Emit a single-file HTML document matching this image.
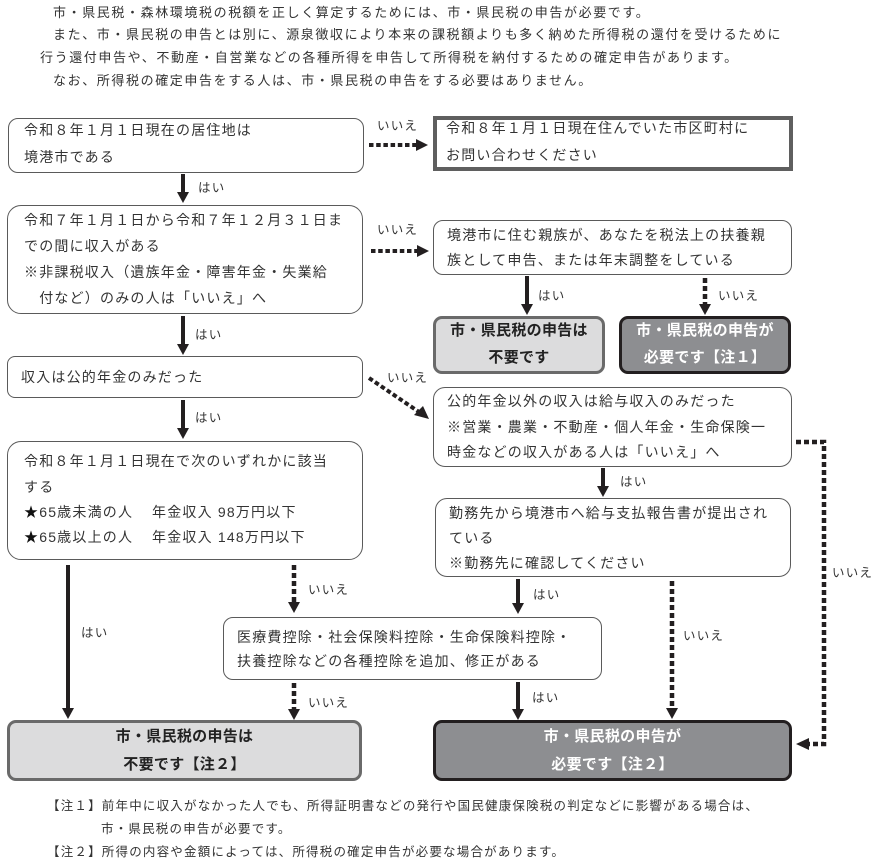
<!DOCTYPE html>
<html><head><meta charset="utf-8">
<style>
html,body{margin:0;padding:0;background:#fff;}
#c{position:relative;width:878px;height:858px;overflow:hidden;background:#fff;}
.t{position:absolute;white-space:nowrap;font-family:"Liberation Sans","Noto Sans CJK JP",sans-serif;color:#333;}
.tp{font-size:13px;letter-spacing:1.6px;line-height:22.7px;}
.bx{font-size:14px;letter-spacing:1.2px;}
.lb{font-size:12.5px;letter-spacing:1.2px;line-height:16px;color:#333;}
.nt{font-size:12.5px;letter-spacing:1.2px;line-height:23px;}
.bd{font-size:15px;letter-spacing:0.3px;font-weight:bold;text-align:center;}
.b{position:absolute;box-sizing:border-box;border:1.5px solid #5a5a5a;border-radius:11px;background:#fff;}
.lt{position:absolute;box-sizing:border-box;border:3px solid #6a6a6a;border-radius:9px;background:#dcdcdd;}
.dk{position:absolute;box-sizing:border-box;border:3px solid #231f20;border-radius:9px;background:#8d8e91;}
svg{position:absolute;left:0;top:0;}
</style></head><body><div id="c">

<!-- top paragraph -->
<div class="t tp" style="left:53px;top:1.7px;">市・県民税・森林環境税の税額を正しく算定するためには、市・県民税の申告が必要です。</div>
<div class="t tp" style="left:53px;top:24.4px;">また、市・県民税の申告とは別に、源泉徴収により本来の課税額よりも多く納めた所得税の還付を受けるために</div>
<div class="t tp" style="left:40px;top:47px;">行う還付申告や、不動産・自営業などの各種所得を申告して所得税を納付するための確定申告があります。</div>
<div class="t tp" style="left:53px;top:69.7px;">なお、所得税の確定申告をする人は、市・県民税の申告をする必要はありません。</div>

<!-- boxes -->
<div class="b" style="left:8px;top:118px;width:356px;height:55px;border-radius:10px;"></div>
<div style="position:absolute;left:433px;top:116px;width:360px;height:55px;box-sizing:border-box;border:4px solid #5f5f5f;background:#fff;"></div>
<div class="b" style="left:7px;top:205px;width:356px;height:109px;border-radius:14px;"></div>
<div class="b" style="left:433px;top:220px;width:359px;height:55px;border-radius:10px;"></div>
<div class="lt" style="left:433px;top:316px;width:172px;height:58px;"></div>
<div class="dk" style="left:619px;top:316px;width:172px;height:58px;"></div>
<div class="b" style="left:7px;top:356px;width:356px;height:42px;border-radius:8px;"></div>
<div class="b" style="left:433px;top:387px;width:359px;height:80px;border-radius:12px;"></div>
<div class="b" style="left:7px;top:441px;width:356px;height:119px;border-radius:14px;"></div>
<div class="b" style="left:435px;top:498px;width:356px;height:79px;border-radius:12px;"></div>
<div class="b" style="left:223px;top:617px;width:379px;height:63px;border-radius:10px;"></div>
<div class="lt" style="left:7px;top:720px;width:355px;height:61px;"></div>
<div class="dk" style="left:433px;top:720px;width:359px;height:61px;"></div>

<!-- box texts -->
<div class="t bx" style="left:24px;top:116.5px;line-height:27px;">令和８年１月１日現在の居住地は<br>境港市である</div>
<div class="t bx" style="left:446px;top:114.5px;line-height:27px;">令和８年１月１日現在住んでいた市区町村に<br>お問い合わせください</div>
<div class="t bx" style="left:24px;top:207px;line-height:26px;">令和７年１月１日から令和７年１２月３１日ま<br>での間に収入がある<br>※非課税収入（遺族年金・障害年金・失業給<br>&#12288;付など）のみの人は「いいえ」へ</div>
<div class="t bx" style="left:447px;top:222.5px;line-height:25px;">境港市に住む親族が、あなたを税法上の扶養親<br>族として申告、または年末調整をしている</div>
<div class="t bx bd" style="left:433px;top:316.5px;width:172px;line-height:27px;color:#222;">市・県民税の申告は<br>不要です</div>
<div class="t bx bd" style="left:619px;top:316.5px;width:172px;line-height:27px;color:#fff;">市・県民税の申告が<br>必要です【注１】</div>
<div class="t bx" style="left:21px;top:364px;line-height:26px;">収入は公的年金のみだった</div>
<div class="t bx" style="left:447px;top:389px;line-height:25.5px;">公的年金以外の収入は給与収入のみだった<br>※営業・農業・不動産・個人年金・生命保険一<br>時金などの収入がある人は「いいえ」へ</div>
<div class="t bx" style="left:24px;top:449.3px;line-height:25.3px;">令和８年１月１日現在で次のいずれかに該当<br>する<br><span style="color:#111">★</span>65歳未満の人<br><span style="color:#111">★</span>65歳以上の人</div>
<div class="t bx" style="left:152px;top:500px;line-height:25.3px;">年金収入 98万円以下<br>年金収入 148万円以下</div>
<div class="t bx" style="left:449px;top:500.5px;line-height:25px;">勤務先から境港市へ給与支払報告書が提出され<br>ている<br>※勤務先に確認してください</div>
<div class="t bx" style="left:237px;top:625px;line-height:24px;">医療費控除・社会保険料控除・生命保険料控除・<br>扶養控除などの各種控除を追加、修正がある</div>
<div class="t bx bd" style="left:7px;top:723px;width:355px;line-height:28px;color:#222;">市・県民税の申告は<br>不要です【注２】</div>
<div class="t bx bd" style="left:433px;top:723px;width:359px;line-height:28px;color:#fff;">市・県民税の申告が<br>必要です【注２】</div>

<!-- labels -->
<div class="t lb" style="left:377px;top:118px;">いいえ</div>
<div class="t lb" style="left:198px;top:180px;">はい</div>
<div class="t lb" style="left:377px;top:222px;">いいえ</div>
<div class="t lb" style="left:195px;top:327px;">はい</div>
<div class="t lb" style="left:195px;top:410px;">はい</div>
<div class="t lb" style="left:387px;top:370px;">いいえ</div>
<div class="t lb" style="left:538px;top:288px;">はい</div>
<div class="t lb" style="left:718px;top:288px;">いいえ</div>
<div class="t lb" style="left:620px;top:474px;">はい</div>
<div class="t lb" style="left:832px;top:565px;">いいえ</div>
<div class="t lb" style="left:533px;top:587px;">はい</div>
<div class="t lb" style="left:683px;top:628px;">いいえ</div>
<div class="t lb" style="left:81px;top:625px;">はい</div>
<div class="t lb" style="left:308px;top:582px;">いいえ</div>
<div class="t lb" style="left:308px;top:695px;">いいえ</div>
<div class="t lb" style="left:532px;top:690px;">はい</div>

<!-- notes -->
<div class="t nt" style="left:47px;top:794.5px;">【注１】前年中に収入がなかった人でも、所得証明書などの発行や国民健康保険税の判定などに影響がある場合は、</div>
<div class="t nt" style="left:101px;top:817.5px;">市・県民税の申告が必要です。</div>
<div class="t nt" style="left:47px;top:840.5px;">【注２】所得の内容や金額によっては、所得税の確定申告が必要な場合があります。</div>

<svg width="878" height="858" viewBox="0 0 878 858">
<g stroke="#231f20" stroke-width="4" fill="none">
  <!-- solid -->
  <line x1="183" y1="174" x2="183" y2="193"/>
  <line x1="183" y1="316" x2="183" y2="345"/>
  <line x1="183" y1="400" x2="183" y2="429"/>
  <line x1="68" y1="565" x2="68" y2="709"/>
  <line x1="527" y1="276" x2="527" y2="305"/>
  <line x1="603" y1="468" x2="603" y2="487"/>
  <line x1="518" y1="579" x2="518" y2="604"/>
  <line x1="518" y1="682" x2="518" y2="710"/>
</g>
<g fill="#231f20">
  <polygon points="177,192 189,192 183,203"/>
  <polygon points="177,344 189,344 183,355"/>
  <polygon points="177,428 189,428 183,439"/>
  <polygon points="62,708 74,708 68,719"/>
  <polygon points="521,304 533,304 527,315"/>
  <polygon points="597,486 609,486 603,497"/>
  <polygon points="512,603 524,603 518,614"/>
  <polygon points="512,709 524,709 518,720"/>
</g>
<g stroke="#231f20" stroke-width="4" fill="none" stroke-dasharray="4.5 2.7">
  <line x1="369" y1="145" x2="416" y2="145"/>
  <line x1="371" y1="251" x2="417" y2="251"/>
  <line x1="369" y1="378" x2="419" y2="412"/>
</g>
<g stroke="#231f20" stroke-width="4.5" fill="none" stroke-dasharray="5 3">
  <line x1="705" y1="278" x2="705" y2="305"/>
  <line x1="294" y1="565" x2="294" y2="603"/>
  <line x1="294" y1="683" x2="294" y2="710"/>
  <line x1="672" y1="581" x2="672" y2="709"/>
  <polyline points="796,442 824,442 824,744 808,744"/>
</g>
<g fill="#231f20">
  <polygon points="416,139 416,151 428,145"/>
  <polygon points="417,245 417,257 429,251"/>
  <polygon points="414,415 423,406 429,419"/>
  <polygon points="699,304 711,304 705,315"/>
  <polygon points="288,602 300,602 294,613"/>
  <polygon points="288,709 300,709 294,720"/>
  <polygon points="666,708 678,708 672,719"/>
  <polygon points="809,738 809,750 796,744"/>
</g>
</svg>
</div></body></html>
